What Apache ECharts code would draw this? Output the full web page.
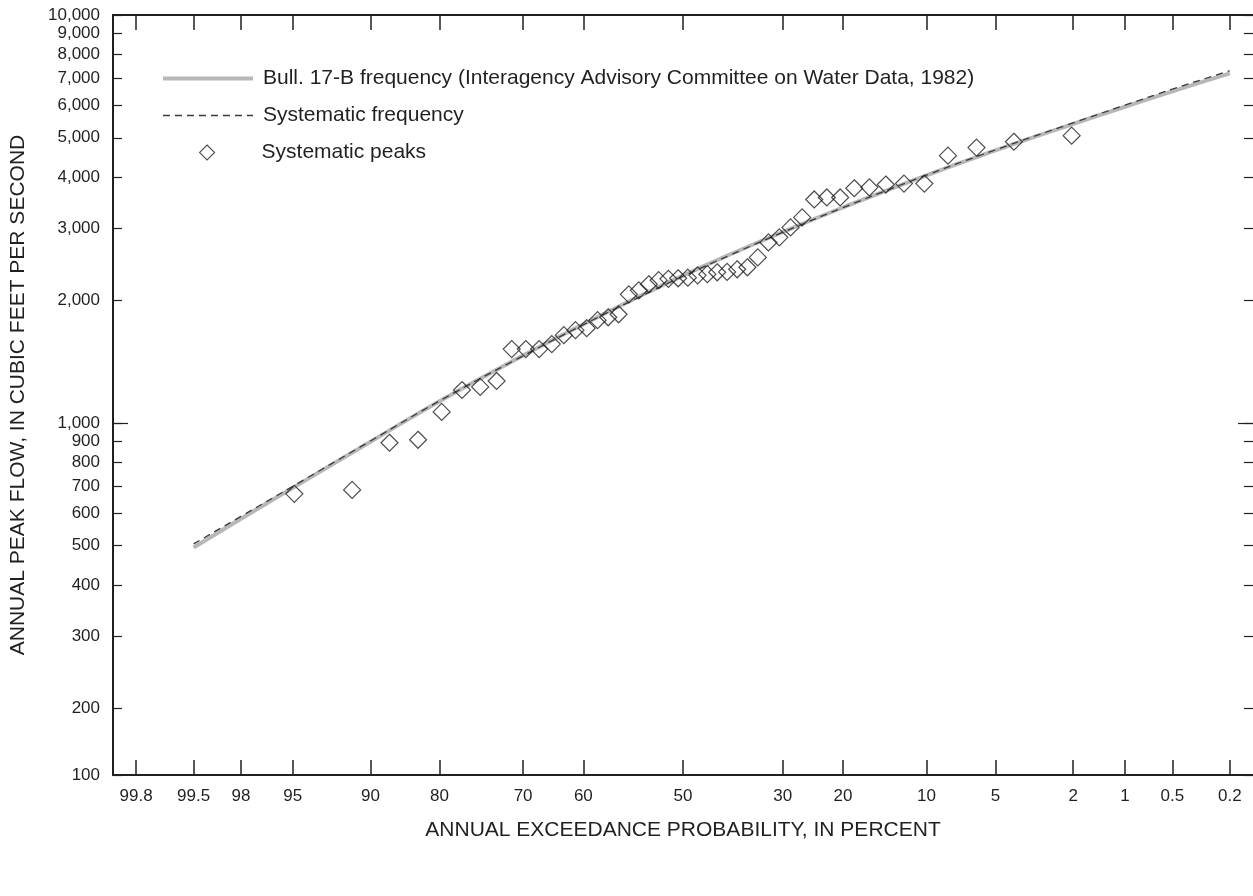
<!DOCTYPE html>
<html>
<head>
    <meta charset="utf-8"/>
    <title>Annual peak flow frequency</title>
    <script src="https://cdn.jsdelivr.net/npm/echarts@6/dist/echarts.min.js"></script>
    <style>
        html, body { margin: 0; padding: 0; background: #fff; }
        #myChart { width: 1253px; height: 896px; }
    </style>
</head>
<body>
<div id="myChart"></div>
<script>
    // 频率曲线 - 年超越概率(%)
    var curveProbs = [99.5, 99, 98, 95, 90, 80, 70, 60, 50, 40, 30, 20, 10, 5, 2, 1, 0.5, 0.2];
    var bull17bFlow = [495, 582, 693, 899, 1130, 1462, 1746, 2018, 2296, 2594, 2938, 3373, 4046, 4656, 5408, 5957, 6501, 7190];
    var systematicFlow = [505, 590, 699, 903, 1132, 1460, 1740, 2010, 2288, 2585, 2930, 3370, 4050, 4670, 5440, 6010, 6580, 7300];

    // 实测洪峰
    var peakProbs = [2.04, 4.08, 6.12, 8.16, 10.20, 12.24, 14.29, 16.33, 18.37, 20.41, 22.45, 24.49,
        26.53, 28.57, 30.61, 32.65, 34.69, 36.73, 38.78, 40.82, 42.86, 44.90, 46.94, 48.98,
        51.02, 53.06, 55.10, 57.14, 59.18, 61.22, 63.27, 65.31, 67.35, 69.39, 71.43, 73.47,
        75.51, 77.55, 79.59, 81.63, 83.67, 85.71, 87.76, 89.80, 91.84, 93.88, 95.92, 97.96];
    var peakFlow = [5060, 4890, 4730, 4520, 3860, 3860, 3840, 3780, 3760, 3570, 3570, 3530,
        3190, 3015, 2850, 2770, 2545, 2407, 2380, 2345, 2340, 2315, 2300, 2270,
        2262, 2255, 2238, 2187, 2113, 2066, 1846, 1815, 1786, 1707, 1688, 1641,
        1560, 1517, 1517, 1517, 1267, 1225, 1204, 1064, 909, 894, 685, 670];

    // 刻度
    var xTickProbs = [99.8, 99.5, 99, 98, 95, 90, 80, 70, 50, 30, 20, 10, 5, 2, 1, 0.5, 0.2];
    var xTickLabels = ['99.8', '99.5', '98', '95', '90', '80', '70', '60', '50', '30', '20', '10', '5', '2', '1', '0.5', '0.2'];
    var yTickValues = [100, 200, 300, 400, 500, 600, 700, 800, 900, 1000, 2000, 3000, 4000, 5000, 6000, 7000, 8000, 9000, 10000];
    var yTickLabels = ['100', '200', '300', '400', '500', '600', '700', '800', '900', '1,000',
        '2,000', '3,000', '4,000', '5,000', '6,000', '7,000', '8,000', '9,000', '10,000'];
    var yBottomValue = 137;   // 图中 "100" 所在位置的实际值

    // 正态分位数 (Acklam)
    function normInv(p) {
        var a = [-3.969683028665376e+01, 2.209460984245205e+02, -2.759285104469687e+02, 1.383577518672690e+02, -3.066479806614716e+01, 2.506628277459239e+00];
        var b = [-5.447609879822406e+01, 1.615858368580409e+02, -1.556989798598866e+02, 6.680131188771972e+01, -1.328068155288572e+01];
        var c = [-7.784894002430293e-03, -3.223964580411365e-01, -2.400758277161838e+00, -2.549732539343734e+00, 4.374664141464968e+00, 2.938163982698783e+00];
        var d = [7.784695709041462e-03, 3.224671290700398e-01, 2.445134137142996e+00, 3.754408661907416e+00];
        var pl = 0.02425, q, r;
        if (p < pl) {
            q = Math.sqrt(-2 * Math.log(p));
            return (((((c[0] * q + c[1]) * q + c[2]) * q + c[3]) * q + c[4]) * q + c[5]) / ((((d[0] * q + d[1]) * q + d[2]) * q + d[3]) * q + 1);
        }
        if (p > 1 - pl) {
            q = Math.sqrt(-2 * Math.log(1 - p));
            return -(((((c[0] * q + c[1]) * q + c[2]) * q + c[3]) * q + c[4]) * q + c[5]) / ((((d[0] * q + d[1]) * q + d[2]) * q + d[3]) * q + 1);
        }
        q = p - 0.5;
        r = q * q;
        return (((((a[0] * r + a[1]) * r + a[2]) * r + a[3]) * r + a[4]) * r + a[5]) * q / (((((b[0] * r + b[1]) * r + b[2]) * r + b[3]) * r + b[4]) * r + 1);
    }
    // 超越概率 -> 横轴坐标
    function probX(pct) { return normInv(1 - pct / 100); }
    function flowY(v) { return Math.log10(v); }

    var xTickPos = xTickProbs.map(probX);
    var yTickPos = yTickValues.map(function (v) { return flowY(Math.max(v, yBottomValue)); });

    function nearestLabel(v, pos, labels) {
        var best = 0;
        for (var i = 1; i < pos.length; i++) {
            if (Math.abs(pos[i] - v) < Math.abs(pos[best] - v)) best = i;
        }
        return labels[best];
    }

    var pairs = function (xs, ys) {
        return xs.map(function (p, i) { return [probX(p), flowY(ys[i])]; });
    };

    var ink = '#231f20';
    var font = 'Liberation Sans';
    var yMin = flowY(yBottomValue), yMax = 4;
    var bullName = 'Bull. 17-B frequency (Interagency Advisory Committee on Water Data, 1982)';
    var bullColor = '#b7b7b7', sysColor = '#3a3a3a';

    var tickLabel = { fontSize: 17, color: ink, fontFamily: font };

    var myChart = echarts.init(document.getElementById('myChart'));
    var option = {
        animation: false,
        backgroundColor: '#fff',
        textStyle: { fontFamily: font, color: ink },
        grid: { left: 113, top: 15, width: 1142, height: 760 },
        legend: [{
            orient: 'vertical',
            left: 156,
            top: 63,
            itemWidth: 90,
            itemHeight: 16,
            itemGap: 16,
            selectedMode: false,
            textStyle: { fontSize: 21, lineHeight: 16, color: ink, fontFamily: font, padding: [0, 0, 0, 5] },
            data: [
                { name: bullName, itemStyle: { opacity: 0 }, lineStyle: { width: 4, color: bullColor } },
                { name: 'Systematic frequency', itemStyle: { opacity: 0 }, lineStyle: { width: 1.3, color: sysColor, type: [7, 5] } }
            ]
        }, {
            orient: 'vertical',
            left: 194,
            top: 137,
            itemWidth: 15,
            itemHeight: 15,
            selectedMode: false,
            textStyle: { fontSize: 21, lineHeight: 16, color: ink, fontFamily: font, padding: [0, 0, 0, 42] },
            data: [{ name: 'Systematic peaks', icon: 'diamond', itemStyle: { color: 'rgba(0,0,0,0)', borderColor: ink, borderWidth: 1.1 } }]
        }],
        xAxis: [{
            type: 'value', position: 'bottom', min: -3, max: 3,
            name: 'ANNUAL EXCEEDANCE PROBABILITY, IN PERCENT',
            nameLocation: 'middle', nameGap: 45,
            nameTextStyle: { fontSize: 21, color: ink, fontFamily: font },
            splitLine: { show: false },
            axisLine: { onZero: false, lineStyle: { color: ink, width: 2 } },
            axisTick: { inside: true, length: 15, customValues: xTickPos, lineStyle: { color: ink, width: 1.5 } },
            axisLabel: Object.assign({
                customValues: xTickPos, margin: 13,
                formatter: function (v) { return nearestLabel(v, xTickPos, xTickLabels); }
            }, tickLabel)
        }, {
            type: 'value', position: 'top', min: -3, max: 3,
            splitLine: { show: false },
            axisLine: { onZero: false, lineStyle: { color: ink, width: 2 } },
            axisTick: { inside: true, length: 15, customValues: xTickPos, lineStyle: { color: ink, width: 1.5 } },
            axisLabel: { show: false }
        }],
        yAxis: [{
            type: 'value', position: 'left', min: yMin, max: yMax,
            name: 'ANNUAL PEAK FLOW, IN CUBIC FEET PER SECOND',
            nameLocation: 'middle', nameGap: 84, nameRotate: 90,
            nameTextStyle: { fontSize: 21, color: ink, fontFamily: font },
            splitLine: { show: false },
            axisLine: { onZero: false, lineStyle: { color: ink, width: 2 } },
            axisTick: { inside: true, length: 9, customValues: yTickPos, lineStyle: { color: ink, width: 1.2 } },
            axisLabel: Object.assign({
                customValues: yTickPos, margin: 13,
                formatter: function (v) { return nearestLabel(v, yTickPos, yTickLabels); }
            }, tickLabel)
        }, {
            type: 'value', position: 'left', min: yMin, max: yMax,
            splitLine: { show: false },
            axisLine: { show: false, onZero: false },
            axisTick: { inside: true, length: 15, customValues: [flowY(1000)], lineStyle: { color: ink, width: 1.2 } },
            axisLabel: { show: false }
        }, {
            type: 'value', position: 'right', min: yMin, max: yMax,
            splitLine: { show: false },
            axisLine: { show: false, onZero: false },
            axisTick: { show: true, inside: true, length: 9, customValues: yTickPos, lineStyle: { color: ink, width: 1.2 } },
            axisLabel: { show: false }
        }, {
            type: 'value', position: 'right', min: yMin, max: yMax,
            splitLine: { show: false },
            axisLine: { show: false, onZero: false },
            axisTick: { show: true, inside: true, length: 15, customValues: [flowY(1000)], lineStyle: { color: ink, width: 1.2 } },
            axisLabel: { show: false }
        }],
        series: [{
            name: bullName,
            type: 'line',
            smooth: true,
            symbol: 'none',
            lineStyle: { color: bullColor, width: 4 },
            itemStyle: { color: bullColor, opacity: 0 },
            data: pairs(curveProbs, bull17bFlow),
            z: 2
        }, {
            name: 'Systematic frequency',
            type: 'line',
            smooth: true,
            symbol: 'none',
            lineStyle: { color: sysColor, width: 1.3, type: [7, 5] },
            itemStyle: { color: sysColor, opacity: 0 },
            data: pairs(curveProbs, systematicFlow),
            z: 3
        }, {
            name: 'Systematic peaks',
            type: 'scatter',
            symbol: 'diamond',
            symbolSize: 17,
            itemStyle: { color: 'rgba(0,0,0,0)', borderColor: ink, borderWidth: 1.2 },
            data: pairs(peakProbs, peakFlow),
            z: 4
        }]
    };
    myChart.setOption(option);
</script>
</body>
</html>
